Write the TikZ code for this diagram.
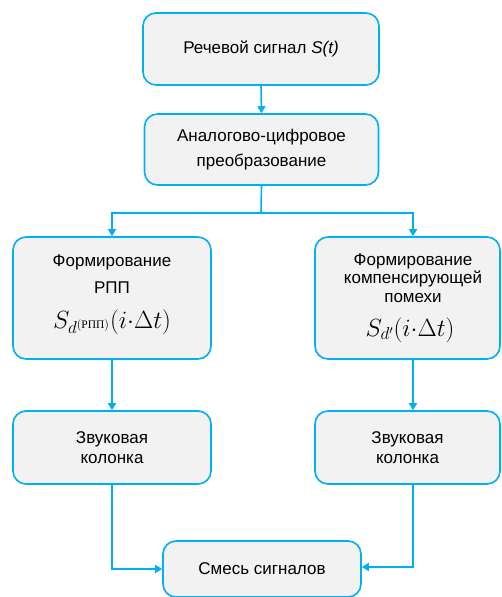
\documentclass[tikz,border=0pt]{standalone}
\usepackage{fontspec}
\usepackage{amsmath}
\setmainfont{Liberation Sans}
\newfontfamily\cyrserif{Liberation Serif}
\usetikzlibrary{arrows.meta}
\definecolor{bord}{RGB}{0,176,240}
\definecolor{boxfill}{RGB}{242,242,242}
\tikzset{
  x=1pt, y=1pt,
  blk/.style={draw=bord, line width=1.6pt, fill=boxfill, rounded corners=13pt,
    align=center, font=\fontsize{17}{19.5}\selectfont, inner sep=0pt},
  txt/.style={align=center, font=\fontsize{17}{19.5}\selectfont, inner sep=0pt},
  fml/.style={font=\fontsize{23}{26}\selectfont, inner sep=0pt},
  conn/.style={draw=bord, line width=1.6pt, -{Triangle[length=7pt,width=8pt]}},
  plain/.style={draw=bord, line width=1.6pt}
}
\begin{document}
\begin{tikzpicture}
\useasboundingbox (0,0) rectangle (501,-597);
\node[blk, minimum width=236, minimum height=72] (a) at (261,-49) {Речевой сигнал \textit{S(t)}};
\node[blk, minimum width=234, minimum height=71] (b) at (261.5,-149.5) {Аналогово-цифровое\\[5pt]преобразование};
\node[blk, minimum width=198, minimum height=122] (c) at (112,-298) {};
\node[txt] (c1) at (112,-274) {Формирование\\[7pt]РПП};
\node[fml] (c2) at (112,-322) {$S_{d^{(\text{\cyrserif РПП})}}(i{\cdot}\Delta t)$};
\node[blk, minimum width=185, minimum height=122] (d) at (407.5,-298) {};
\node[txt] (d1) at (413,-278) {Формирование\\[-1pt]компенсирующей\\[-1pt]помехи};
\node[fml] (d2) at (410,-330) {$S_{d'}(i{\cdot}\Delta t)$};
\node[blk, minimum width=198, minimum height=73] (e) at (112,-447.5) {Звуковая\\колонка};
\node[blk, minimum width=185, minimum height=73] (f) at (407.5,-447.5) {Звуковая\\колонка};
\node[blk, minimum width=198, minimum height=56] (g) at (262,-569) {Смесь сигналов};
\coordinate (j) at (261,-213);
\draw[conn] (a.south) -- (b.north);
\draw[plain] (b.south) -- (j);
\draw[conn] (j) -| (c.north);
\draw[conn] (j) -| ([xshift=5.5pt]d.north);
\draw[conn] (c.south) -- (e.north);
\draw[conn] ([xshift=5.5pt]d.south) -- ([xshift=5.5pt]f.north);
\draw[conn] (e.south) |- (g.west);
\draw[conn] ([xshift=5.5pt]f.south) |- ([yshift=2pt]g.east);
\end{tikzpicture}
\end{document}
